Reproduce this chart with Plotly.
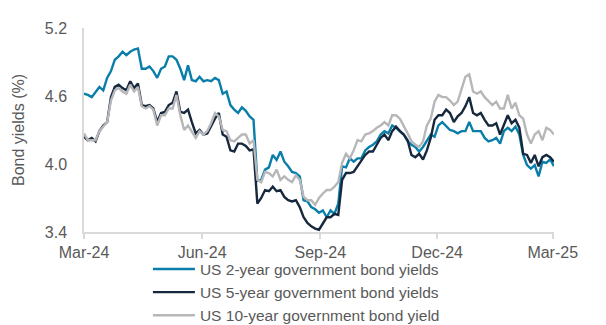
import pandas as pd
import plotly.graph_objects as go

# Observation dates (roughly every 3 days, Mar-2024 to Mar-2025)
dates = pd.date_range("2024-03-01", periods=123, freq="3D")

us2y = [4.62, 4.61, 4.59, 4.64, 4.68, 4.65, 4.76, 4.82, 4.92, 4.95,
        4.99, 4.96, 4.99, 5.01, 5.02, 4.84, 4.84, 4.86, 4.82, 4.76,
        4.84, 4.86, 4.95, 4.95, 4.92, 4.84, 4.74, 4.87, 4.74, 4.73,
        4.77, 4.73, 4.74, 4.73, 4.76, 4.74, 4.62, 4.64, 4.52, 4.48,
        4.45, 4.50, 4.47, 4.42, 4.39, 3.85, 3.86, 3.95, 3.97, 4.08,
        4.035, 4.11, 4.02, 3.98, 3.93, 3.92, 3.89, 3.68, 3.67, 3.62,
        3.60, 3.57, 3.59, 3.53, 3.59, 3.56, 3.65, 3.98, 3.97, 4.05,
        4.02, 4.05, 4.05, 4.12, 4.15, 4.17, 4.20, 4.26, 4.29, 4.27,
        4.34, 4.32, 4.29, 4.26, 4.20, 4.17, 4.15, 4.11, 4.15, 4.21,
        4.26, 4.24, 4.34, 4.37, 4.33, 4.30, 4.29, 4.27, 4.29, 4.29,
        4.37, 4.29, 4.29, 4.29, 4.23, 4.20, 4.21, 4.23, 4.18, 4.29,
        4.32, 4.29, 4.33, 4.26, 4.08, 3.99, 3.96, 3.99, 3.89, 4.02,
        4.01, 4.04, 3.98]

us5y = [4.24, 4.21, 4.23, 4.20, 4.29, 4.34, 4.37, 4.59, 4.68, 4.70,
        4.67, 4.65, 4.73, 4.67, 4.71, 4.52, 4.51, 4.52, 4.49, 4.37,
        4.45, 4.46, 4.52, 4.54, 4.64, 4.46, 4.45, 4.48, 4.37, 4.27,
        4.30, 4.26, 4.27, 4.34, 4.40, 4.45, 4.26, 4.24, 4.12, 4.11,
        4.18, 4.18, 4.16, 4.12, 4.13, 3.65, 3.70, 3.77, 3.76, 3.80,
        3.76, 3.77, 3.71, 3.68, 3.67, 3.68, 3.62, 3.53, 3.48, 3.45,
        3.43, 3.42, 3.47, 3.53, 3.53, 3.56, 3.55, 3.86, 3.92, 3.92,
        3.93, 3.98, 4.02, 4.08, 4.11, 4.11, 4.17, 4.23, 4.26, 4.21,
        4.29, 4.33, 4.29, 4.26, 4.21, 4.08, 4.06, 4.09, 4.04, 4.12,
        4.23, 4.39, 4.43, 4.43, 4.48, 4.45, 4.37, 4.42, 4.45, 4.51,
        4.59, 4.45, 4.43, 4.45, 4.39, 4.34, 4.34, 4.36, 4.26, 4.34,
        4.43, 4.36, 4.39, 4.32, 4.09, 4.08, 4.01, 4.08, 3.98, 4.06,
        4.08, 4.06, 4.02]

us10y = [4.27, 4.21, 4.21, 4.21, 4.29, 4.33, 4.37, 4.56, 4.65, 4.67,
         4.64, 4.62, 4.70, 4.64, 4.68, 4.51, 4.49, 4.51, 4.48, 4.34,
         4.43, 4.43, 4.49, 4.49, 4.61, 4.43, 4.30, 4.34, 4.29, 4.23,
         4.29, 4.26, 4.29, 4.36, 4.45, 4.42, 4.30, 4.29, 4.21, 4.20,
         4.23, 4.26, 4.26, 4.18, 4.21, 3.86, 3.84, 3.93, 3.92, 3.89,
         3.95, 3.86, 3.89, 3.86, 3.84, 3.90, 3.86, 3.71, 3.68, 3.68,
         3.64, 3.70, 3.74, 3.77, 3.77, 3.80, 3.84, 4.01, 4.09, 4.05,
         4.12, 4.21, 4.20, 4.26, 4.27, 4.29, 4.32, 4.34, 4.37, 4.34,
         4.43, 4.43, 4.40, 4.34, 4.27, 4.20, 4.17, 4.15, 4.20, 4.34,
         4.40, 4.55, 4.61, 4.59, 4.59, 4.56, 4.52, 4.55, 4.67, 4.77,
         4.79, 4.64, 4.62, 4.64, 4.59, 4.55, 4.52, 4.55, 4.49, 4.49,
         4.61, 4.49, 4.54, 4.43, 4.40, 4.26, 4.18, 4.26, 4.29, 4.21,
         4.32, 4.30, 4.26]

series_names = ["US 2-year government bond yields",
                "US 5-year government bond yields",
                "US 10-year government bond yield"]
series_colors = ["#0A7EAA", "#16283D", "#B7B7BA"]

x_tickvals = ["2024-03-01", "2024-06-01", "2024-09-01", "2024-12-01", "2025-03-01"]
y_tickvals = [3.4, 4.0, 4.6, 5.2]

fig = go.Figure()
for name, vals, col in zip(series_names, [us2y, us5y, us10y], series_colors):
    fig.add_trace(go.Scatter(x=dates, y=vals, mode="lines", name=name,
                             line=dict(color=col, width=2.4)))

font_family = "Liberation Sans, Arial, sans-serif"
axis_col = "#D9D9D9"
text_col = "#595959"

fig.update_layout(
    template="none",
    width=606, height=325, autosize=False,
    margin=dict(l=84, r=52, t=28, b=93, pad=0, autoexpand=False),
    paper_bgcolor="white", plot_bgcolor="white",
    font=dict(family=font_family, size=16, color=text_col),
    showlegend=True,
    legend=dict(orientation="v", x=0.136, xanchor="left", y=-0.10, yanchor="top",
                font=dict(size=15.5, color=text_col), itemwidth=42,
                bgcolor="rgba(0,0,0,0)", tracegroupgap=0),
    xaxis=dict(type="date", range=["2024-03-01", "2025-03-02"],
               tickvals=x_tickvals, tickformat="%b-%y",
               showline=True, linecolor=axis_col, linewidth=1.5,
               ticks="outside", ticklen=5, tickwidth=1.5, tickcolor=axis_col,
               showgrid=False, zeroline=False, automargin=False,
               tickfont=dict(size=16, color=text_col)),
    yaxis=dict(range=[3.4, 5.2], tickvals=y_tickvals, tickformat=".1f",
               showline=True, linecolor=axis_col, linewidth=1.5,
               ticks="", ticklabelstandoff=12,
               showgrid=False, zeroline=False, automargin=False,
               tickfont=dict(size=16, color=text_col),
               title=dict(text="Bond yields (%)", font=dict(size=16, color=text_col),
                          standoff=16)),
)

fig.write_html("out.html")
